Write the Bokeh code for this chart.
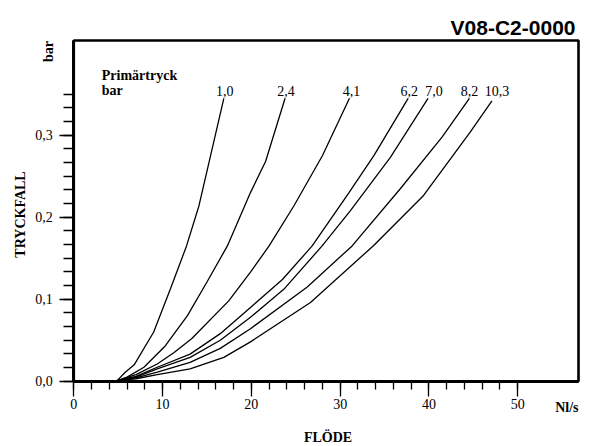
from bokeh.plotting import figure
from bokeh.models import (Range1d, FixedTicker, CustomJSTickFormatter, Label, ColumnDataSource,
                          BoxAnnotation)
from bokeh.embed import file_html
from bokeh.resources import INLINE
from bokeh.core.properties import value

# ---- data (flow Nl/s, pressure drop bar) ----
curve_labels = ["1,0", "2,4", "4,1", "6,2", "7,0", "8,2", "10,3"]

flow_10 = [3.0, 4.9, 5.8, 6.8, 9.0, 10.9, 12.7, 14.1, 16.9]
dp_10 = [0.0, 0.001, 0.011, 0.020, 0.060, 0.113, 0.165, 0.214, 0.345]

flow_24 = [3.2, 5.0, 6.0, 7.9, 10.3, 12.8, 15.0, 17.3, 19.9, 21.6, 23.8]
dp_24 = [0.0, 0.001, 0.005, 0.017, 0.043, 0.080, 0.121, 0.165, 0.230, 0.268, 0.345]

flow_41 = [3.4, 5.0, 7.0, 9.4, 11.3, 13.3, 17.45, 19.9, 22.0, 24.8, 28.0, 31.05]
dp_41 = [0.0, 0.001, 0.008, 0.021, 0.035, 0.052, 0.098, 0.133, 0.165, 0.214, 0.275, 0.345]

flow_62 = [3.5, 5.0, 7.0, 9.4, 13.1, 16.5, 19.9, 23.5, 26.85, 31.0, 33.8, 37.66]
dp_62 = [0.0, 0.001, 0.006, 0.017, 0.033, 0.058, 0.090, 0.124, 0.165, 0.230, 0.275, 0.345]

flow_70 = [3.6, 5.0, 7.0, 9.4, 13.1, 16.5, 19.9, 23.65, 27.97, 31.16, 35.66, 39.9]
dp_70 = [0.0, 0.001, 0.005, 0.015, 0.029, 0.050, 0.078, 0.112, 0.165, 0.208, 0.273, 0.345]

flow_82 = [3.8, 5.0, 7.0, 9.4, 13.1, 16.5, 19.9, 26.3, 31.35, 36.8, 41.5, 44.56]
dp_82 = [0.0, 0.001, 0.004, 0.011, 0.023, 0.040, 0.064, 0.115, 0.165, 0.235, 0.298, 0.345]

flow_103 = [4.0, 5.0, 7.0, 9.4, 13.1, 16.9, 19.9, 26.66, 33.78, 39.4, 44.67, 47.1]
dp_103 = [0.0, 0.001, 0.003, 0.008, 0.015, 0.029, 0.048, 0.096, 0.1655, 0.2265, 0.304, 0.342]

x_major = [0, 10, 20, 30, 40, 50]
y_major = [0.0, 0.1, 0.2, 0.3]

flows = [flow_10, flow_24, flow_41, flow_62, flow_70, flow_82, flow_103]
dps = [dp_10, dp_24, dp_41, dp_62, dp_70, dp_82, dp_103]

# pixel nudges of the curve labels (style only)
label_dx = [1, 1, 2, 1, 6, 0, 5]

# ---- layout: the frame fills the canvas, the axes sit at fixed data locations ----
W, H = 594, 446
BOX_L, BOX_R, BOX_T, BOX_B = 73.3, 578.0, 40.0, 380.7   # pixel box of the chart area
XMAX = 56.85
YMAX = 0.4155
xpp = XMAX / (BOX_R - BOX_L)
ypp = YMAX / (BOX_B - BOX_T)
x_range = Range1d(-BOX_L * xpp, (W - BOX_L) * xpp)
y_range = Range1d(-(H - BOX_B) * ypp, BOX_B * ypp)

SERIF = "Liberation Serif"

p = figure(width=W, height=H, x_range=x_range, y_range=y_range,
           output_backend="svg", toolbar_location=None, min_border=0)
p.xgrid.visible = False
p.ygrid.visible = False
p.outline_line_color = None
p.background_fill_color = "white"
p.border_fill_color = "white"
p.title.visible = False

xa = p.xaxis[0]
xa.fixed_location = 0
xa.bounds = (0, XMAX)
xa.ticker = FixedTicker(ticks=x_major, minor_ticks=list(range(0, 51, 2)))
xa.axis_line_width = 3
xa.major_tick_in = 0
xa.major_tick_out = 15
xa.minor_tick_in = 0
xa.minor_tick_out = 8
xa.major_tick_line_width = 1.3
xa.minor_tick_line_width = 1.3
xa.major_label_text_font = SERIF
xa.major_label_text_font_size = "14px"
xa.major_label_text_color = "black"
xa.major_label_standoff = 3

ya = p.yaxis[0]
ya.fixed_location = 0
ya.bounds = (0, YMAX)
ya.ticker = FixedTicker(ticks=y_major, minor_ticks=[k / 60 for k in range(0, 22)])
ya.formatter = CustomJSTickFormatter(code="return tick.toFixed(1).replace('.', ',');")
ya.axis_line_width = 3
ya.major_tick_in = 0
ya.major_tick_out = 14
ya.minor_tick_in = 0
ya.minor_tick_out = 10
ya.major_tick_line_width = 1.3
ya.minor_tick_line_width = 1.3
ya.major_label_text_font = SERIF
ya.major_label_text_font_size = "14px"
ya.major_label_text_color = "black"
ya.major_label_standoff = 7

# chart box (top and right edges)
p.add_layout(BoxAnnotation(left=0, right=XMAX, bottom=0, top=YMAX, fill_alpha=0,
                           line_color="black", line_width=2.6, line_alpha=1.0))

for fx, fy in zip(flows, dps):
    p.line(fx, fy, line_color="black", line_width=1.3)

label_y = max(d[-1] for d in dps)
src = ColumnDataSource(dict(x=[f[-1] for f in flows], y=[label_y] * len(flows),
                            text=curve_labels, dx=label_dx))
p.text(x="x", y="y", text="text", x_offset="dx", y_offset=-7, source=src,
       text_align="center", text_baseline="alphabetic",
       text_font=value(SERIF), text_font_size=value("14px"), text_color="black")

def lab(**kw):
    base = dict(text_font=SERIF, text_font_size="14px", text_font_style="bold", text_color="black")
    base.update(kw)
    p.add_layout(Label(**base))

# title
lab(x=XMAX, y=YMAX, x_offset=-3, y_offset=13, text="V08-C2-0000", text_align="right",
    text_baseline="alphabetic", text_font="Liberation Sans", text_font_size="21px")
# legend heading
lab(x=0, y=YMAX, x_offset=28, y_offset=-34.5, text="Primärtryck", text_align="left",
    text_baseline="alphabetic")
lab(x=0, y=YMAX, x_offset=28, y_offset=-50, text="bar", text_align="left",
    text_baseline="alphabetic")
# unit on y axis
lab(x=0, y=YMAX, x_offset=-25.3, y_offset=-11, text="bar", angle=1.5707963,
    text_align="center", text_baseline="middle")
# y title
lab(x=0, y=0, x_offset=-53.3, y_offset=166.7, text="TRYCKFALL", angle=1.5707963,
    text_align="center", text_baseline="middle")
# x unit
lab(x=XMAX, y=0, x_offset=0, y_offset=-26.3, text="Nl/s", text_align="right",
    text_baseline="middle")
# x title
lab(x=0, y=0, x_offset=254.2, y_offset=-56, text="FLÖDE", text_align="center",
    text_baseline="middle")

open("out.html", "w").write(file_html(p, INLINE))
